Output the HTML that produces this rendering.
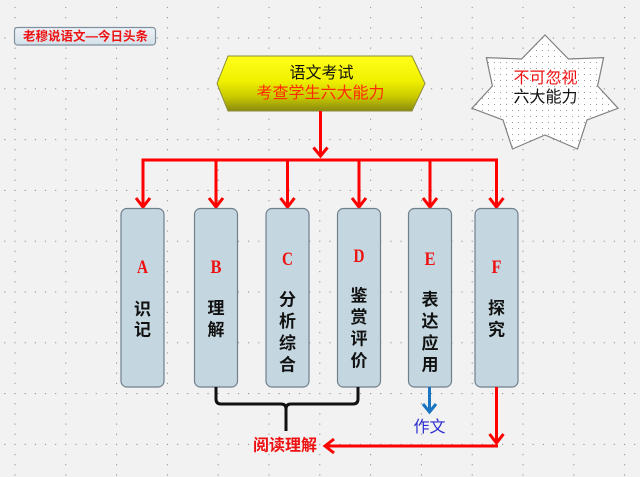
<!DOCTYPE html>
<html>
<head>
<meta charset="utf-8">
<style>
  html,body{margin:0;padding:0;background:#f2f2f2;}
  svg{display:block;}
  .cjk{font-family:"Liberation Sans","Noto Sans CJK SC","WenQuanYi Zen Hei",sans-serif;}
  .ltr{font-family:"Liberation Serif",serif;font-weight:bold;}
</style>
</head>
<body>
<svg width="640" height="477" viewBox="0 0 640 477" xmlns="http://www.w3.org/2000/svg">
  <defs>
    <pattern id="grid" patternUnits="userSpaceOnUse" x="14.5" y="37.5" width="50.8" height="50.8">
      <rect x="0" y="0" width="1" height="1" fill="#7a7a7a"/>
      <rect x="10.16" y="0" width="1" height="1" fill="#7a7a7a"/>
      <rect x="20.32" y="0" width="1" height="1" fill="#7a7a7a"/>
      <rect x="30.48" y="0" width="1" height="1" fill="#7a7a7a"/>
      <rect x="40.64" y="0" width="1" height="1" fill="#7a7a7a"/>
      <rect x="0" y="10.16" width="1" height="1" fill="#7a7a7a"/>
      <rect x="0" y="20.32" width="1" height="1" fill="#7a7a7a"/>
      <rect x="0" y="30.48" width="1" height="1" fill="#7a7a7a"/>
      <rect x="0" y="40.64" width="1" height="1" fill="#7a7a7a"/>
    </pattern>
    <pattern id="stardots" patternUnits="userSpaceOnUse" x="0" y="0" width="6" height="6">
      <rect x="0" y="0" width="6" height="6" fill="#ffffff"/>
      <rect x="2" y="2" width="1" height="1" fill="#9a9a9a"/>
    </pattern>
    <linearGradient id="hexg" x1="0" y1="0" x2="0" y2="1">
      <stop offset="0" stop-color="#ffff1a"/>
      <stop offset="0.45" stop-color="#f0f000"/>
      <stop offset="0.75" stop-color="#c8c800"/>
      <stop offset="1" stop-color="#8a8a10"/>
    </linearGradient>
    <linearGradient id="lblg" x1="0" y1="0" x2="0" y2="1">
      <stop offset="0" stop-color="#eef3f7"/>
      <stop offset="1" stop-color="#d3e0e8"/>
    </linearGradient>
  </defs>

  <!-- background -->
  <rect x="0" y="0" width="640" height="477" fill="#f2f2f2"/>
  <rect x="0" y="0" width="640" height="477" fill="url(#grid)"/>

  <!-- top-left label -->
  <rect x="14.5" y="27.5" width="141" height="17.5" rx="3" ry="3" fill="url(#lblg)" stroke="#7f90a0" stroke-width="1.2"/>
  <text class="cjk" x="23" y="36.5" dominant-baseline="central" font-size="12.5" font-weight="bold" fill="#ee1111" textLength="125" lengthAdjust="spacingAndGlyphs">老穆说语文—今日头条</text>

  <!-- yellow hexagon -->
  <polygon points="217,83.5 228,56 412,56 425,83.5 412,111 228,111" fill="url(#hexg)" stroke="#8c8c3c" stroke-width="1"/>
  <text class="cjk" x="321.5" y="73.5" text-anchor="middle" dominant-baseline="central" font-size="16" fill="#111">语文考试</text>
  <text class="cjk" x="320.5" y="93.5" text-anchor="middle" dominant-baseline="central" font-size="16" fill="#ff2a00">考查学生六大能力</text>

  <!-- star -->
  <polygon points="545,35 568.4,59 603.6,57.6 597.6,86 618.1,108.3 587,120 577.5,149 545,135 512.5,149 503,120 471.9,108.3 492.4,86 486.4,57.6 521.6,59" fill="url(#stardots)" stroke="#808080" stroke-width="1.2" stroke-linejoin="miter"/>
  <text class="cjk" x="545.5" y="78.5" text-anchor="middle" dominant-baseline="central" font-size="16" fill="#ee1111">不可忽视</text>
  <text class="cjk" x="545.5" y="97.5" text-anchor="middle" dominant-baseline="central" font-size="16" fill="#111">六大能力</text>

  <!-- red connectors top -->
  <g stroke="#ff0000" stroke-width="3" fill="none" stroke-linecap="butt" stroke-linejoin="miter">
    <line x1="320.5" y1="111" x2="320.5" y2="155"/>
    <polyline points="313.5,147.5 320.5,156 327.5,147.5"/>
    <line x1="141.5" y1="160" x2="498" y2="160"/>
    <line x1="143" y1="160" x2="143" y2="206"/>
    <polyline points="136,198 143,207 150,198"/>
    <line x1="216" y1="160" x2="216" y2="206"/>
    <polyline points="209,198 216,207 223,198"/>
    <line x1="287.5" y1="160" x2="287.5" y2="206"/>
    <polyline points="280.5,198 287.5,207 294.5,198"/>
    <line x1="359" y1="160" x2="359" y2="206"/>
    <polyline points="352,198 359,207 366,198"/>
    <line x1="430" y1="160" x2="430" y2="206"/>
    <polyline points="423,198 430,207 437,198"/>
    <line x1="496.5" y1="160" x2="496.5" y2="206"/>
    <polyline points="489.5,198 496.5,207 503.5,198"/>
  </g>

  <!-- boxes -->
  <g fill="#c4d7e0" stroke="#6f7f8c" stroke-width="1.2">
    <rect x="121" y="208.5" width="43" height="178.5" rx="6" ry="6"/>
    <rect x="194.5" y="208.5" width="43" height="178.5" rx="6" ry="6"/>
    <rect x="266" y="208.5" width="43" height="178.5" rx="6" ry="6"/>
    <rect x="337.5" y="208.5" width="43" height="178.5" rx="6" ry="6"/>
    <rect x="408.5" y="208.5" width="43" height="178.5" rx="6" ry="6"/>
    <rect x="475" y="208.5" width="43" height="178.5" rx="6" ry="6"/>
  </g>

  <!-- letters -->
  <g class="ltr" fill="#ee1111" font-size="19" text-anchor="middle">
    <text x="142.5" y="273" textLength="11" lengthAdjust="spacingAndGlyphs">A</text>
    <text x="216" y="273" textLength="11" lengthAdjust="spacingAndGlyphs">B</text>
    <text x="287.5" y="265" textLength="11" lengthAdjust="spacingAndGlyphs">C</text>
    <text x="359" y="262" textLength="11" lengthAdjust="spacingAndGlyphs">D</text>
    <text x="430" y="265" textLength="11" lengthAdjust="spacingAndGlyphs">E</text>
    <text x="496.5" y="273" textLength="10" lengthAdjust="spacingAndGlyphs">F</text>
  </g>

  <!-- chinese labels in boxes -->
  <g class="cjk" fill="#111" font-size="17" font-weight="bold" text-anchor="middle" dominant-baseline="central">
    <text x="142.5" y="309.5">识</text>
    <text x="142.5" y="330">记</text>

    <text x="216" y="308.5">理</text>
    <text x="216" y="330">解</text>

    <text x="287.5" y="300">分</text>
    <text x="287.5" y="321.5">析</text>
    <text x="287.5" y="343.5">综</text>
    <text x="287.5" y="365">合</text>

    <text x="359" y="296">鉴</text>
    <text x="359" y="317.5">赏</text>
    <text x="359" y="339">评</text>
    <text x="359" y="361">价</text>

    <text x="430" y="300">表</text>
    <text x="430" y="321.5">达</text>
    <text x="430" y="343.5">应</text>
    <text x="430" y="365">用</text>

    <text x="496.5" y="308.5">探</text>
    <text x="496.5" y="330">究</text>
  </g>

  <!-- black bracket -->
  <path d="M216,387 V399 Q216,404 221,404 H281 Q286,404 286,409 V431 M286,409 Q286,404 291,404 H353 Q358,404 358,399 V387" fill="none" stroke="#111" stroke-width="3" stroke-linejoin="round"/>

  <!-- blue arrow -->
  <g stroke="#1a74c0" stroke-width="3" fill="none">
    <line x1="429.5" y1="387" x2="429.5" y2="411"/>
    <polyline points="423,404 429.5,412 436,404"/>
  </g>
  <text class="cjk" x="429.5" y="427.5" text-anchor="middle" dominant-baseline="central" font-size="16" fill="#2a2ad0">作文</text>

  <!-- red bottom arrows -->
  <g stroke="#ff0000" stroke-width="3" fill="none" stroke-linejoin="miter">
    <line x1="496.5" y1="387" x2="496.5" y2="442"/>
    <polyline points="489.5,434 496.5,443 503.5,434"/>
    <line x1="498" y1="446" x2="326" y2="446"/>
    <polyline points="334,439 325,446 334,453"/>
  </g>
  <text class="cjk" x="285" y="446" text-anchor="middle" dominant-baseline="central" font-size="16" font-weight="bold" fill="#ee1111">阅读理解</text>
</svg>
</body>
</html>
